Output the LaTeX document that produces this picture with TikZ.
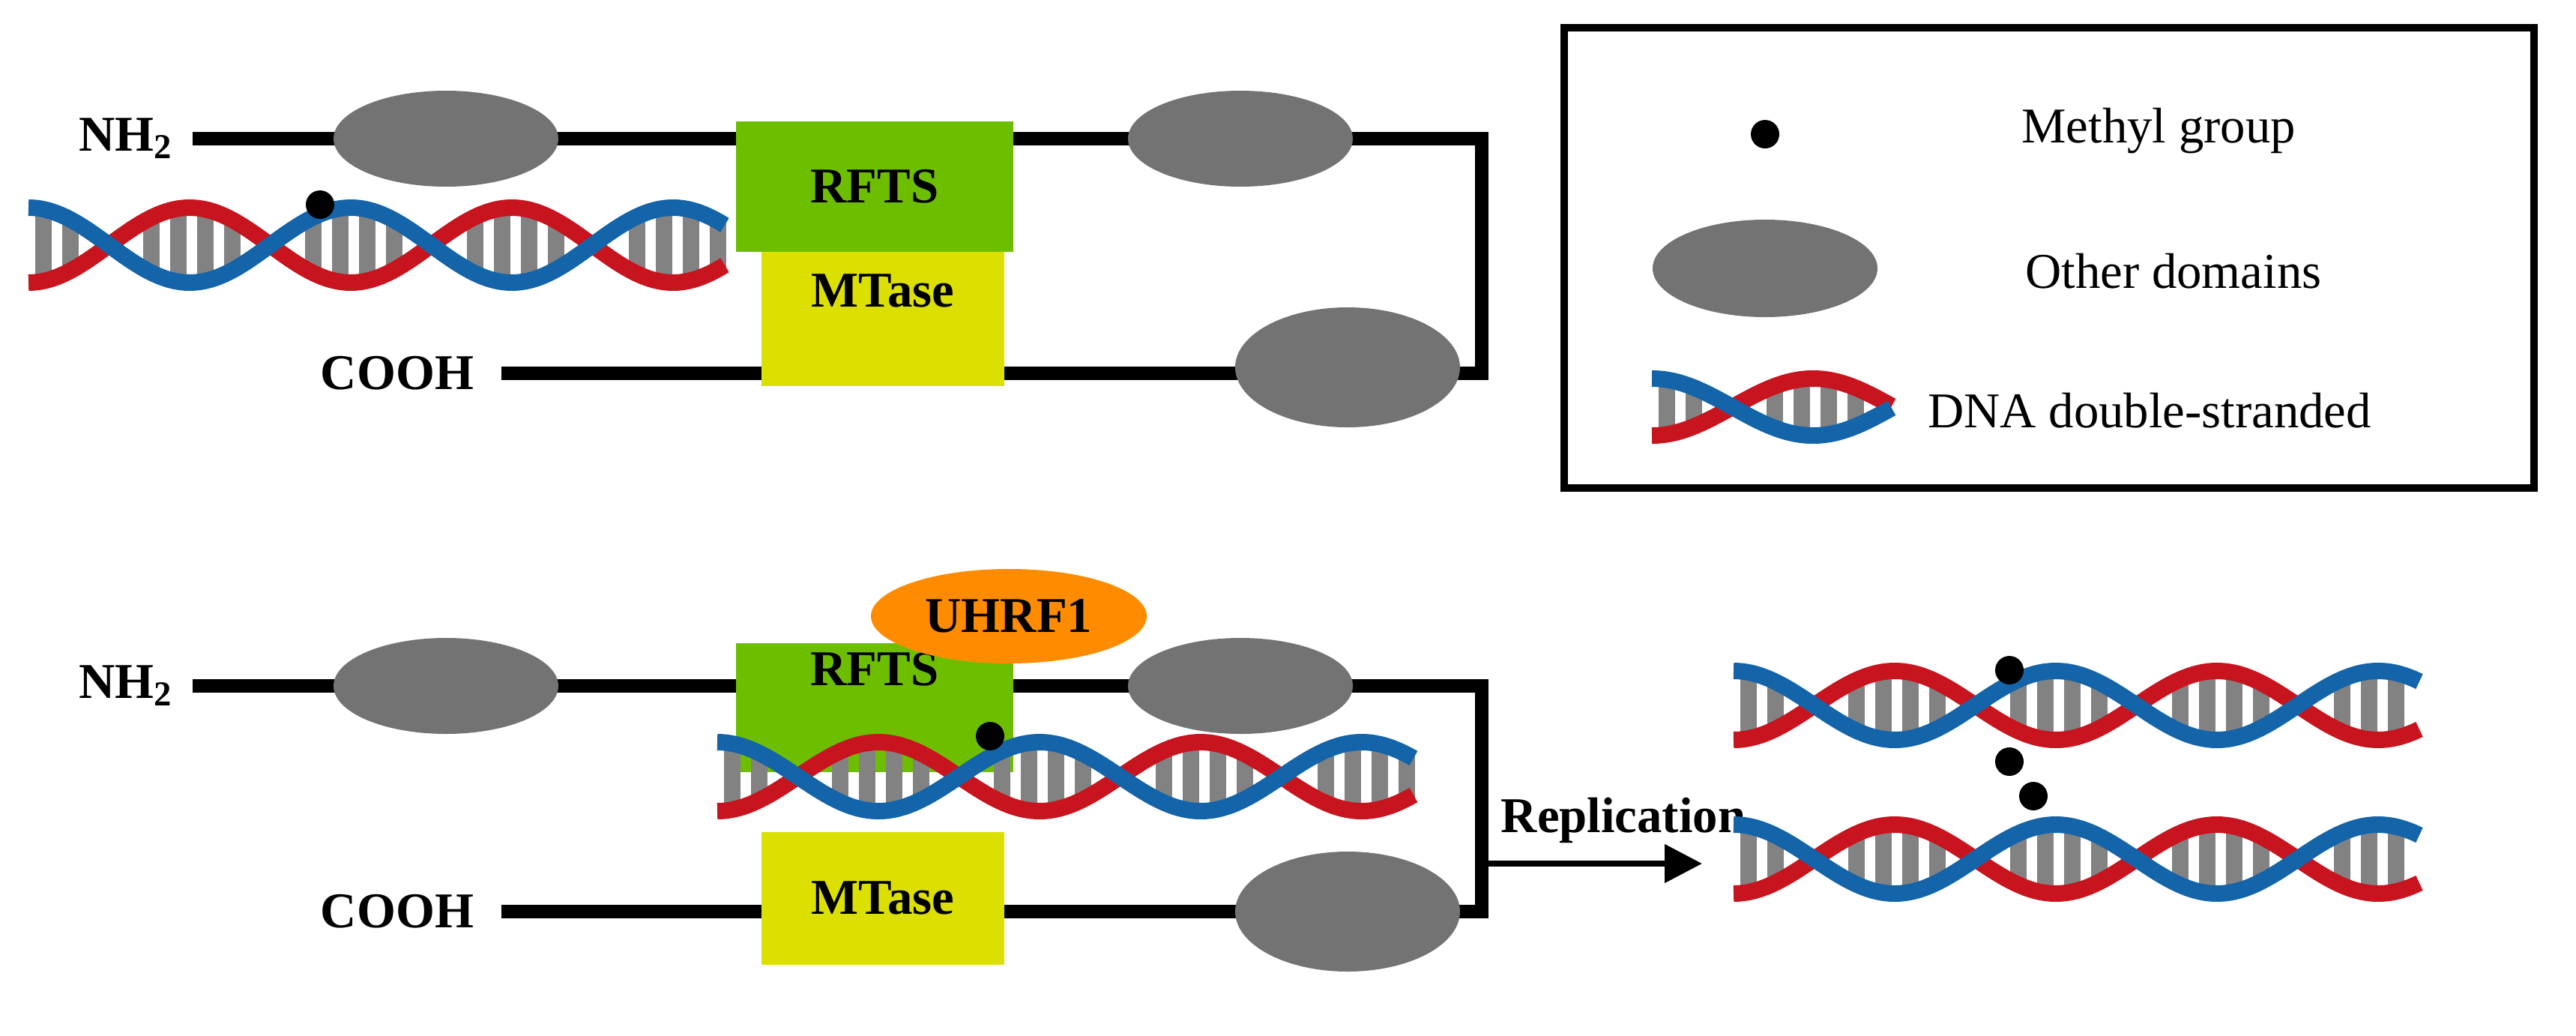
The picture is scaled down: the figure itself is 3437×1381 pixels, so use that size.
\documentclass[tikz,border=0pt]{standalone}
\usepackage{fontspec}
\setmainfont{Liberation Serif}
\usetikzlibrary{shapes.geometric,arrows.meta}
\definecolor{dom}{RGB}{115,115,115}
\definecolor{rfts}{RGB}{110,190,0}
\definecolor{mtase}{RGB}{220,224,0}
\definecolor{uhrf}{RGB}{255,140,0}
\definecolor{dblue}{RGB}{20,100,170}
\definecolor{dred}{RGB}{200,20,30}
\definecolor{bar}{RGB}{130,130,130}
\newcommand\U[1]{#1*0.28453pt}
\newcommand\dnahelix[4]{% x0 yc L A
  \foreach \i in {20,56,...,#3}{%
    \pgfmathsetmacro\hh{#4*abs(cos(\i/430*360))*0.95}%
    \pgfmathparse{\hh>16?1:0}%
    \ifnum\pgfmathresult=1
      \draw[bar,line width=\U{22}] (#1+\i,#2-\hh) -- (#1+\i,#2+\hh);
    \fi}%
  \draw[dred,line width=\U{22}] plot[domain=0:#3,samples=120,smooth] ({#1+\x},{#2+#4*cos(\x/430*360)});
  \draw[dblue,line width=\U{22}] plot[domain=0:#3,samples=120,smooth] ({#1+\x},{#2-#4*cos(\x/430*360)});
}
\begin{document}
\begin{tikzpicture}[x=0.1mm,y=-0.1mm,
  lbl/.style={font=\fontsize{19}{21}\selectfont\bfseries},
  txt/.style={font=\fontsize{19}{21}\selectfont,anchor=west},
  dom/.style={ellipse,fill=dom,minimum width=\U{300},minimum height=\U{128},inner sep=0},
  bb/.style={line width=\U{18}},
  meth/.style={circle,fill=black,minimum size=\U{38},inner sep=0}]
\useasboundingbox (0,0) rectangle (3437,1381);
% ---------- top ----------
\node[lbl] (nh1) at (168,185) {NH\textsubscript{2}};
\node[lbl] (co1) at (530,498) {COOH};
\coordinate (c1) at (1977,185);
\coordinate (c2) at (1977,498);
\draw[bb] (257,185) -- (c1) -- (c2) -- (669,498);
\node[dom] (e1) at (595,185) {};
\node[dom] (e2) at (1655,185) {};
\node[dom,minimum height=\U{160}] (e3) at (1798,490) {};
\node[fill=mtase,minimum width=\U{324},minimum height=\U{179},inner sep=0] (m1) at (1178,425) {};
\node[lbl] at (1178,388) {MTase};
\node[lbl,fill=rfts,minimum width=\U{370},minimum height=\U{174},inner sep=0] (r1) at (1167,249) {RFTS};
\dnahelix{38}{327}{929}{50}
\node[meth] (d1) at (427,273) {};
% ---------- legend ----------
\node[draw,line width=\U{10},minimum width=\U{1294},minimum height=\U{614},inner sep=0] (leg) at (2734,344) {};
\node[meth] (ld) at (2355,179) {};
\node[txt] (lt1) at (2685,175) {Methyl group};
\node[dom,minimum height=\U{130}] (le) at (2355,358) {};
\node[txt] (lt2) at (2690,362) {Other domains};
\dnahelix{2204}{543}{320}{38}
\node[txt] (lt3) at (2560,548) {DNA double-stranded};
% ---------- bottom ----------
\node[lbl] (nh2) at (168,915) {NH\textsubscript{2}};
\node[lbl] (co2) at (530,1216) {COOH};
\coordinate (c3) at (1977,915);
\coordinate (c4) at (1977,1216);
\draw[bb] (257,915) -- (c3) -- (c4) -- (669,1216);
\node[dom] (f1) at (595,915) {};
\node[dom] (f2) at (1655,915) {};
\node[dom,minimum height=\U{160}] (f3) at (1798,1216) {};
\node[fill=rfts,minimum width=\U{370},minimum height=\U{172},inner sep=0] (r2) at (1167,944) {};
\node[lbl] at (1167,893) {RFTS};
\node[lbl,fill=mtase,minimum width=\U{324},minimum height=\U{177},inner sep=0] (m2) at (1178,1198) {MTase};
\node[lbl,ellipse,fill=uhrf,minimum width=\U{368},minimum height=\U{126},inner sep=0] (u) at (1346,822) {UHRF1};
\dnahelix{957}{1036}{929}{46}
\node[meth] (d2) at (1321,982) {};
\node[lbl] (rep) at (2166,1094) {Replication};
\coordinate (a1) at (1973,1152);
\coordinate (a2) at (2271,1152);
\draw[line width=\U{8},-{Triangle[length=\U{50},width=\U{50}]}] (a1) -- (a2);
\dnahelix{2313}{941}{915}{46}
\node[meth] (d3) at (2681,894) {};
\node[meth] (d4) at (2681,1016) {};
\dnahelix{2313}{1146}{915}{46}
\node[meth] (d5) at (2713,1062) {};
\end{tikzpicture}
\end{document}
